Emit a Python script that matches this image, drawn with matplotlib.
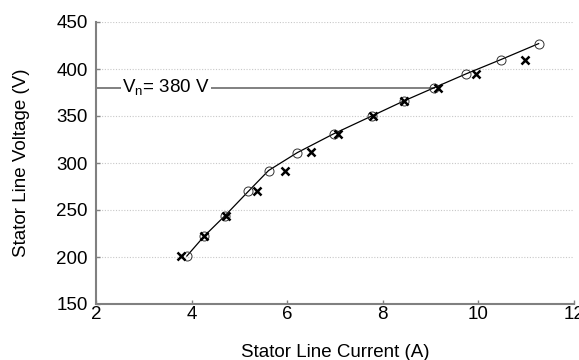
import matplotlib
matplotlib.use('Agg')
import matplotlib.pyplot as plt

plt.rcParams['font.family'] = ['Liberation Sans', 'DejaVu Sans']
plt.rcParams['mathtext.fontset'] = 'custom'
plt.rcParams['mathtext.rm'] = 'Liberation Sans'

# measured (circles, joined by line)
i_meas = [3.90, 4.26, 4.70, 5.19, 5.61, 6.21, 6.97, 7.77, 8.44, 9.07, 9.75, 10.47, 11.26]
v_meas = [201, 222, 244, 270, 292, 311, 331, 350, 366, 380, 395, 410, 427]

# calculated (crosses)
i_calc = [3.78, 4.26, 4.72, 5.36, 5.95, 6.49, 7.07, 7.79, 8.44, 9.16, 9.96, 10.98]
v_calc = [201, 222, 244, 270, 292, 312, 331, 350, 366, 380, 395, 410]

v_nom = 380
i_nom = 9.07

gray = '#808080'

fig = plt.figure(figsize=(5.79, 3.6), dpi=100)
ax = fig.add_axes([96 / 579, 56 / 360, 478 / 579, 282 / 360])

ax.set_xlim(2, 12)
ax.set_ylim(150, 450)
ax.set_xticks([2, 4, 6, 8, 10, 12])
ax.set_yticks([150, 200, 250, 300, 350, 400, 450])

ax.yaxis.grid(True, linestyle=(0, (1, 1.5)), color='#c8c8c8', linewidth=0.8)
ax.set_axisbelow(True)

ax.plot([2, i_nom], [v_nom, v_nom], color=gray, linewidth=1.4, zorder=2)
ax.text(2.55, v_nom, r'V$_\mathregular{n}$= 380 V', fontsize=13.5, va='center', ha='left',
        bbox=dict(facecolor='white', edgecolor='none', pad=1), zorder=3)

ax.plot(i_meas, v_meas, color='black', linewidth=0.9, marker='o', markersize=6.5,
        markerfacecolor='none', markeredgecolor='#333333', markeredgewidth=0.7, zorder=4)
ax.plot(i_calc, v_calc, linestyle='none', marker='x', markersize=5.5,
        color='black', markeredgewidth=1.8, zorder=5)

for s in ['top', 'right']:
    ax.spines[s].set_visible(False)
for s in ['left', 'bottom']:
    ax.spines[s].set_color(gray)
    ax.spines[s].set_linewidth(1.5)

ax.tick_params(direction='in', color=gray, length=3, width=1, labelsize=13.5)
ax.tick_params(axis='y', pad=6)
ax.tick_params(axis='x', pad=1.5)

ax.set_xlabel('Stator Line Current (A)', fontsize=13.5, labelpad=15)
ax.set_ylabel('Stator Line Voltage (V)', fontsize=13.5, labelpad=19)

fig.savefig('out.png', dpi=100)
